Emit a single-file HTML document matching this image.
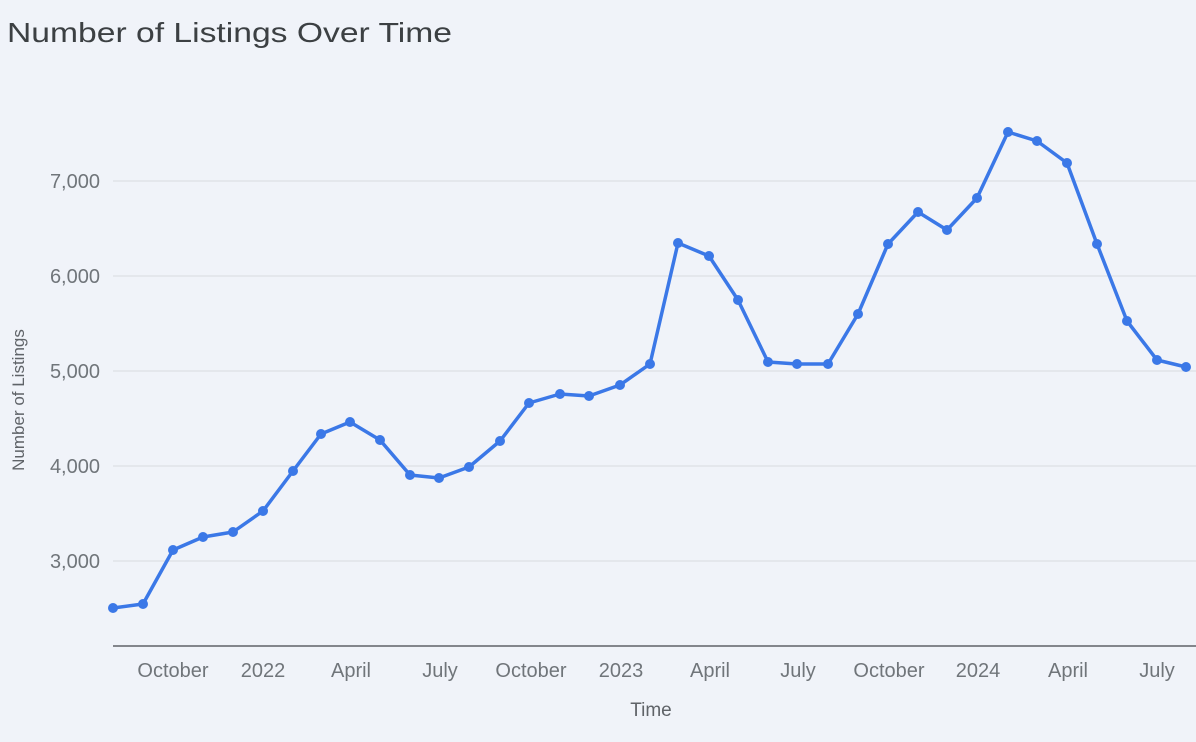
<!DOCTYPE html>
<html><head><style>
html,body{margin:0;padding:0;background:#f0f3f9;}
svg{display:block;font-family:"Liberation Sans",sans-serif;}
</style></head><body>
<svg width="1196" height="742" viewBox="0 0 1196 742">
<rect width="1196" height="742" fill="#f0f3f9"/>
<text x="7" y="42" font-size="28" fill="#3c4043" textLength="445" lengthAdjust="spacingAndGlyphs">Number of Listings Over Time</text>
<g stroke="#d8dbe0" stroke-width="1">
<line x1="113" y1="181" x2="1196" y2="181"/>
<line x1="113" y1="276" x2="1196" y2="276"/>
<line x1="113" y1="371" x2="1196" y2="371"/>
<line x1="113" y1="466" x2="1196" y2="466"/>
<line x1="113" y1="561" x2="1196" y2="561"/>
</g>
<line x1="113" y1="646" x2="1196" y2="646" stroke="#5f6368" stroke-width="1.5"/>
<g font-size="20" fill="#70757a" text-anchor="end">
<text x="100" y="188">7,000</text>
<text x="100" y="283">6,000</text>
<text x="100" y="378">5,000</text>
<text x="100" y="473">4,000</text>
<text x="100" y="568">3,000</text>
</g>
<g font-size="20" fill="#70757a" text-anchor="middle">
<text x="173" y="677">October</text>
<text x="263" y="677">2022</text>
<text x="351" y="677">April</text>
<text x="440" y="677">July</text>
<text x="531" y="677">October</text>
<text x="621" y="677">2023</text>
<text x="710" y="677">April</text>
<text x="798" y="677">July</text>
<text x="889" y="677">October</text>
<text x="978" y="677">2024</text>
<text x="1068" y="677">April</text>
<text x="1157" y="677">July</text>
</g>
<text x="651" y="716" font-size="19" fill="#5f6368" text-anchor="middle">Time</text>
<text transform="translate(24,400) rotate(-90)" font-size="17" fill="#5f6368" text-anchor="middle">Number of Listings</text>
<polyline fill="none" stroke="#3b78e7" stroke-width="3.5" stroke-linejoin="round" points="113,608 143,604 173,550 203,537 233,532 263,511 293,471 321,434 350,422 380,440 410,475 439,478 469,467 500,441 529,403 560,394 589,396 620,385 650,364 678,243 709,256 738,300 768,362 797,364 828,364 858,314 888,244 918,212 947,230 977,198 1008,132 1037,141 1067,163 1097,244 1127,321 1157,360 1186,367"/>
<g fill="#3b78e7">
<circle cx="113" cy="608" r="5"/><circle cx="143" cy="604" r="5"/><circle cx="173" cy="550" r="5"/><circle cx="203" cy="537" r="5"/><circle cx="233" cy="532" r="5"/><circle cx="263" cy="511" r="5"/><circle cx="293" cy="471" r="5"/><circle cx="321" cy="434" r="5"/><circle cx="350" cy="422" r="5"/><circle cx="380" cy="440" r="5"/><circle cx="410" cy="475" r="5"/><circle cx="439" cy="478" r="5"/><circle cx="469" cy="467" r="5"/><circle cx="500" cy="441" r="5"/><circle cx="529" cy="403" r="5"/><circle cx="560" cy="394" r="5"/><circle cx="589" cy="396" r="5"/><circle cx="620" cy="385" r="5"/><circle cx="650" cy="364" r="5"/><circle cx="678" cy="243" r="5"/><circle cx="709" cy="256" r="5"/><circle cx="738" cy="300" r="5"/><circle cx="768" cy="362" r="5"/><circle cx="797" cy="364" r="5"/><circle cx="828" cy="364" r="5"/><circle cx="858" cy="314" r="5"/><circle cx="888" cy="244" r="5"/><circle cx="918" cy="212" r="5"/><circle cx="947" cy="230" r="5"/><circle cx="977" cy="198" r="5"/><circle cx="1008" cy="132" r="5"/><circle cx="1037" cy="141" r="5"/><circle cx="1067" cy="163" r="5"/><circle cx="1097" cy="244" r="5"/><circle cx="1127" cy="321" r="5"/><circle cx="1157" cy="360" r="5"/><circle cx="1186" cy="367" r="5"/>
</g>
</svg>
</body></html>
